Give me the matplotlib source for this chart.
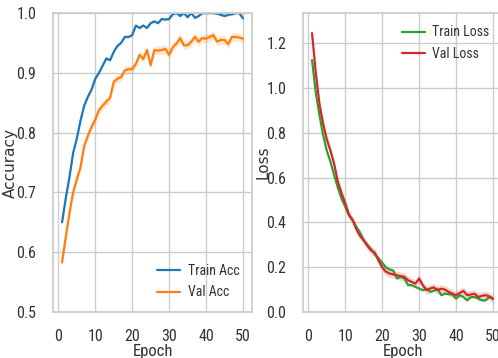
import matplotlib
matplotlib.use("Agg")
import matplotlib.pyplot as plt
import numpy as np
import seaborn as sns

epochs = list(range(1, 51))

train_acc = [0.650, 0.690, 0.725, 0.766, 0.790, 0.820, 0.845, 0.860, 0.872, 0.890,
             0.900, 0.912, 0.924, 0.921, 0.935, 0.945, 0.950, 0.960, 0.960, 0.963,
             0.979, 0.975, 0.979, 0.975, 0.983, 0.986, 0.983, 0.990, 0.989, 0.990,
             0.998, 1.000, 0.995, 1.000, 0.993, 1.000, 0.992, 0.995, 1.000, 1.000,
             1.000, 1.000, 0.999, 0.997, 0.995, 0.997, 0.998, 1.000, 1.000, 0.991]
val_acc = [0.583, 0.625, 0.665, 0.700, 0.722, 0.742, 0.778, 0.795, 0.810, 0.822,
           0.838, 0.845, 0.852, 0.858, 0.885, 0.890, 0.893, 0.904, 0.906, 0.906,
           0.915, 0.930, 0.923, 0.938, 0.913, 0.938, 0.937, 0.938, 0.940, 0.930,
           0.943, 0.949, 0.958, 0.946, 0.946, 0.952, 0.960, 0.952, 0.958, 0.957,
           0.960, 0.963, 0.952, 0.955, 0.955, 0.948, 0.960, 0.960, 0.959, 0.957]
train_loss = [1.125, 0.980, 0.880, 0.790, 0.720, 0.670, 0.610, 0.555, 0.505, 0.470,
              0.430, 0.410, 0.380, 0.355, 0.320, 0.300, 0.280, 0.258, 0.240, 0.220,
              0.200, 0.190, 0.185, 0.150, 0.157, 0.150, 0.120, 0.120, 0.112, 0.105,
              0.097, 0.104, 0.090, 0.095, 0.104, 0.075, 0.082, 0.080, 0.078, 0.060,
              0.075, 0.067, 0.052, 0.067, 0.067, 0.060, 0.052, 0.052, 0.067, 0.058]
val_loss = [1.245, 1.070, 0.930, 0.840, 0.770, 0.720, 0.660, 0.580, 0.530, 0.485,
            0.435, 0.410, 0.370, 0.340, 0.320, 0.295, 0.275, 0.265, 0.230, 0.200,
            0.180, 0.172, 0.168, 0.164, 0.160, 0.157, 0.142, 0.134, 0.127, 0.149,
            0.120, 0.097, 0.105, 0.110, 0.097, 0.104, 0.100, 0.090, 0.082, 0.075,
            0.085, 0.094, 0.075, 0.078, 0.082, 0.067, 0.072, 0.075, 0.070, 0.060]

# half-width of the shaded spread around each curve
train_acc_spread = 0.002
val_acc_spread = 0.007
train_loss_spread = 0.004
val_loss_spread = 0.018

sns.set_theme(style="whitegrid")
plt.rcParams["font.family"] = ["Roboto Condensed", "DejaVu Sans"]
for key in ("text.color", "axes.labelcolor", "xtick.color", "ytick.color"):
    plt.rcParams[key] = "#333333"

fig = plt.figure(figsize=(4.98, 3.58), dpi=100)
ax_acc = fig.add_axes([53 / 498, 46 / 358, 199 / 498, 299 / 358])
ax_loss = fig.add_axes([303 / 498, 46 / 358, 199 / 498, 299 / 358])


def draw(ax, values, spread, color, label):
    values = np.asarray(values)
    ax.plot(epochs, values, color=color, lw=1.6, label=label)
    ax.fill_between(epochs, values - spread, values + spread, color=color, alpha=0.2, lw=0)


draw(ax_acc, train_acc, train_acc_spread, "#1f77b4", "Train Acc")
draw(ax_acc, val_acc, val_acc_spread, "#ff7f0e", "Val Acc")
draw(ax_loss, train_loss, train_loss_spread, "#2ca02c", "Train Loss")
draw(ax_loss, val_loss, val_loss_spread, "#d62728", "Val Loss")

ax_acc.set_ylim(0.5, 1.0)
ax_acc.set_ylabel("Accuracy", fontsize=11, family="DejaVu Sans")
ax_acc.yaxis.set_label_coords(-0.175, 0.5)
ax_loss.set_ylim(0.0, 1.335)
ax_loss.set_ylabel("Loss", fontsize=11, family="DejaVu Sans")
ax_loss.yaxis.set_label_coords(-0.165, 0.5)

for ax in (ax_acc, ax_loss):
    ax.set_xlim(-1.45, 52.45)
    ax.set_xticks([0, 10, 20, 30, 40, 50])
    ax.set_xlabel("Epoch", fontsize=12, labelpad=0)
    ax.tick_params(labelsize=11.5, pad=6)

legend_style = dict(frameon=False, fontsize=10, handlelength=1.65, handletextpad=0.55,
                    labelspacing=0.55)
ax_acc.legend(loc="lower right", **legend_style)
ax_loss.legend(loc="upper right", **legend_style)

fig.savefig("out.png", dpi=100)
